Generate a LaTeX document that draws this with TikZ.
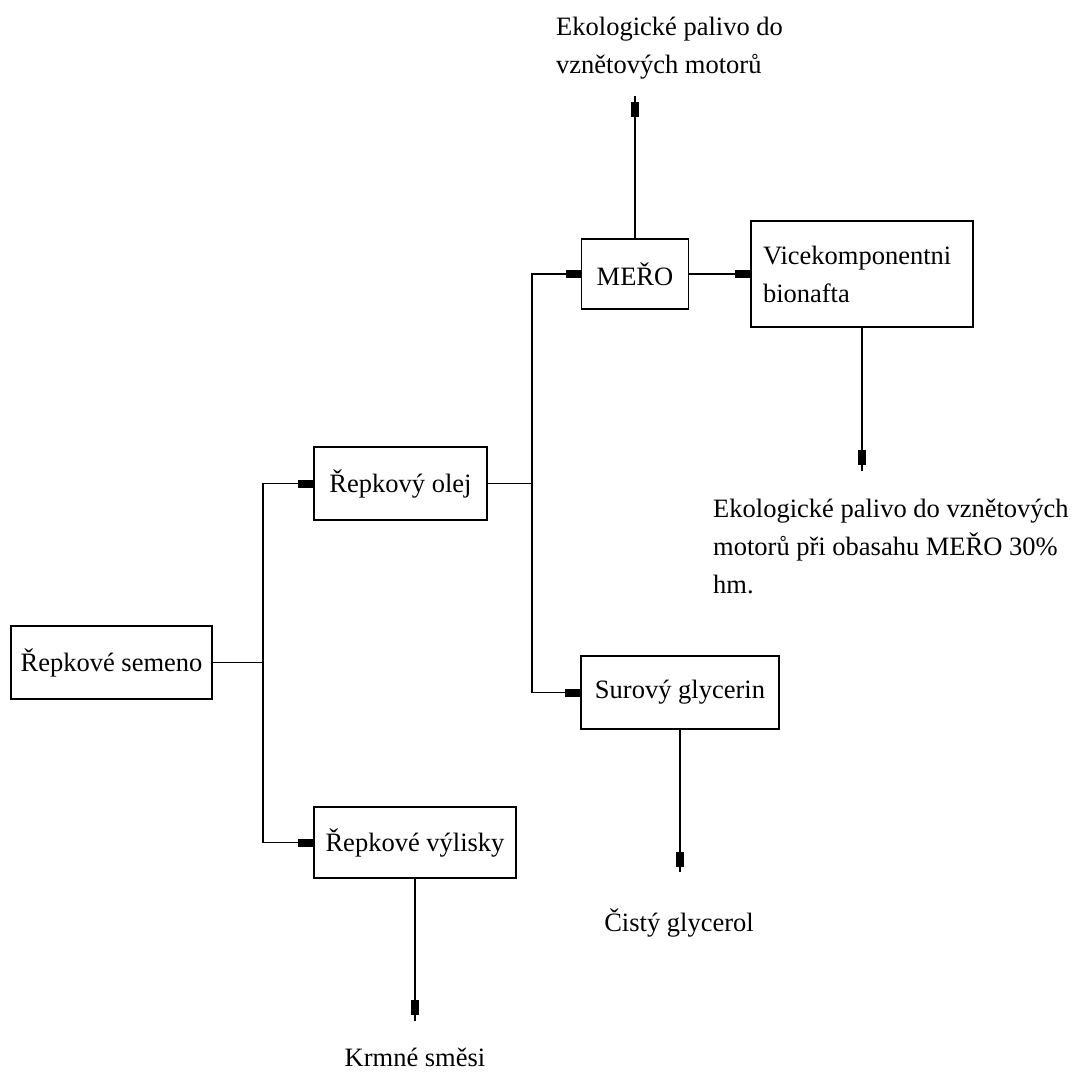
\documentclass[tikz,border=0pt]{standalone}
\usepackage{fontspec}
\setmainfont{Liberation Serif}
\usetikzlibrary{arrows.meta}
\begin{document}
\begin{tikzpicture}[x=1pt,y=-1pt,
  box/.style={draw, line width=1.8pt, inner sep=0pt, align=center},
  lbl/.style={inner sep=0pt, align=left},
  conn/.style={line width=1.8pt},
  arr/.style={line width=1.8pt, -{Rectangle[length=15pt,width=8pt]}},
  every node/.style={font=\fontsize{26.5}{38}\selectfont}]
\useasboundingbox (0,0) rectangle (1077,1074);
% boxes
\node[box, minimum width=201pt, minimum height=73pt] (seed) at (111.5,662.5) {Řepkové semeno};
\node[box, minimum width=173pt, minimum height=73pt] (olej) at (400.5,483.5) {Řepkový olej};
\node[box, minimum width=202pt, minimum height=71pt] (vyl) at (415,842.5) {Řepkové výlisky};
\node[box, minimum width=107pt, minimum height=70pt] (mero) at (635,274) {MEŘO};
\node[box, minimum width=222pt, minimum height=106pt, text width=198pt, align=left] (vice) at (862,274) {Vicekomponentni\\bionafta};
\node[box, minimum width=198pt, minimum height=73pt] (sur) at (680,692.5) {Surový glycerin};
% text labels
\node[lbl, anchor=north west] (out1) at (556,17) {Ekologické palivo do\\vznětových motorů};
\node[lbl, anchor=north west] (out2) at (713,499) {Ekologické palivo do vznětových\\motorů při obasahu MEŘO 30\%\\hm.};
\node[lbl] (cist) at (679,923) {Čistý glycerol};
\node[lbl] (krm) at (415,1057) {Krmné směsi};
% free ends
\coordinate (e1) at (635,96);  \coordinate (t1) at (635,102);
\coordinate (e2) at (862,471); \coordinate (t2) at (862,465);
\coordinate (e3) at (680,872); \coordinate (t3) at (680,867);
\coordinate (e4) at (415,1021); \coordinate (t4) at (415,1015);
% connectors
\draw[conn] (seed.east) -- (263,662.5) coordinate (j1);
\draw[arr] (j1) |- (olej.west);
\draw[arr] (j1) |- (vyl.west);
\draw[conn] (olej.east) -- (532,483.5) coordinate (j2);
\draw[arr] (j2) |- (mero.west);
\draw[arr] (j2) |- (sur.west);
\draw[arr] (mero.east) -- (vice.west);
\draw[conn] (mero.north) -- (e1);
\draw[arr] (mero.north) -- (t1);
\draw[conn] (vice.south) -- (e2);
\draw[arr] (vice.south) -- (t2);
\draw[conn] (sur.south) -- (e3);
\draw[arr] (sur.south) -- (t3);
\draw[conn] (vyl.south) -- (e4);
\draw[arr] (vyl.south) -- (t4);
\end{tikzpicture}
\end{document}
